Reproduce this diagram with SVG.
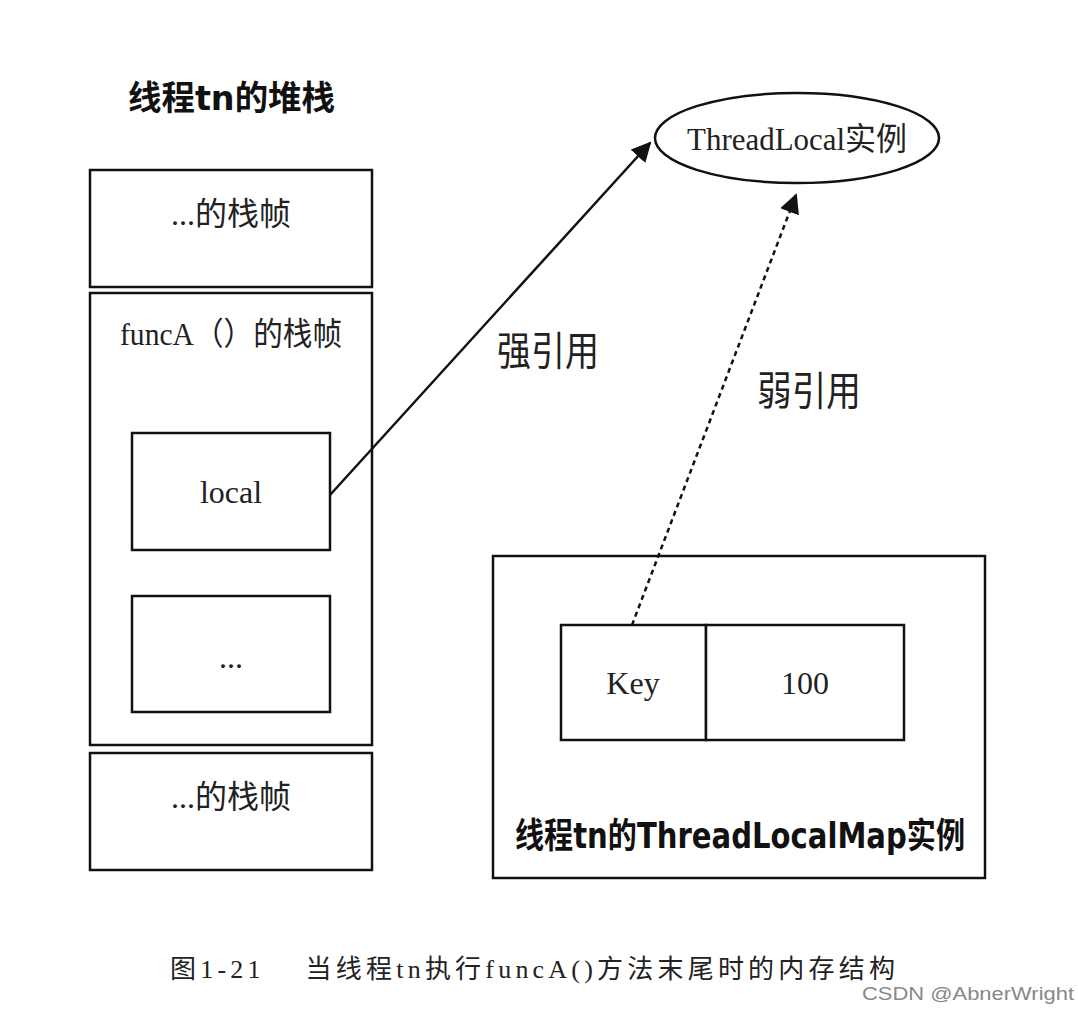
<svg xmlns="http://www.w3.org/2000/svg" width="1078" height="1010" viewBox="0 0 1078 1010">
<style>
.b{fill:#fff;stroke:#111;stroke-width:2.5}
.t{font-family:"Liberation Serif","Noto Sans CJK SC",serif;fill:#222}
.h{font-family:"DejaVu Sans","Noto Sans CJK SC",sans-serif;font-weight:bold;fill:#111}
</style>
<defs><marker id="a" viewBox="0 0 10 10" refX="9" refY="5" markerWidth="8" markerHeight="8" orient="auto"><path d="M0,0L10,5L0,10z" fill="#111"/></marker></defs>
<rect width="1078" height="1010" fill="#fff"/>
<text class="h" x="128" y="110" font-size="34" textLength="207" lengthAdjust="spacingAndGlyphs">线程tn的堆栈</text>
<g id="frame1"><rect class="b" x="90" y="170" width="282" height="117"/><text class="t" x="231" y="225" font-size="32" text-anchor="middle">...的栈帧</text></g>
<g id="frameA"><rect class="b" x="90" y="293" width="282" height="452"/><text class="t" x="120" y="345" font-size="32" textLength="222" lengthAdjust="spacingAndGlyphs">funcA（）的栈帧</text></g>
<g id="local"><rect class="b" x="132" y="433" width="198" height="117"/><text class="t" x="231" y="503" font-size="32" text-anchor="middle">local</text></g>
<g id="dots"><rect class="b" x="132" y="596" width="198" height="116"/><text class="t" x="231" y="668" font-size="32" text-anchor="middle">...</text></g>
<g id="frame3"><rect class="b" x="90" y="753" width="282" height="117"/><text class="t" x="231" y="808" font-size="32" text-anchor="middle">...的栈帧</text></g>
<g id="tl"><ellipse class="b" cx="797" cy="138" rx="142" ry="45"/><text class="t" x="797" y="150" font-size="32" text-anchor="middle" textLength="220" lengthAdjust="spacingAndGlyphs">ThreadLocal实例</text></g>
<g id="map"><rect class="b" x="493" y="556" width="492" height="322"/><text class="h" x="515" y="848" font-size="35" textLength="450" lengthAdjust="spacingAndGlyphs">线程tn的ThreadLocalMap实例</text></g>
<g id="key"><rect class="b" x="561" y="625" width="145" height="115"/><text class="t" x="633" y="694" font-size="32" text-anchor="middle">Key</text></g>
<g id="val"><rect class="b" x="706" y="625" width="198" height="115"/><text class="t" x="805" y="694" font-size="32" text-anchor="middle">100</text></g>
<g id="connectors" stroke="#111" stroke-width="2.5" fill="none">
<line x1="330" y1="495" x2="650" y2="143" marker-end="url(#a)"/>
<line x1="632" y1="625" x2="796" y2="195" stroke-dasharray="5,4" marker-end="url(#a)"/>
</g>
<text class="t" x="497" y="365" font-size="40" textLength="102" lengthAdjust="spacingAndGlyphs">强引用</text>
<text class="t" x="757" y="405" font-size="40" textLength="104" lengthAdjust="spacingAndGlyphs">弱引用</text>
<text class="t" x="170" y="978" font-size="26" textLength="725" lengthAdjust="spacing">图1-21　 当线程tn执行funcA()方法末尾时的内存结构</text>
<text x="862" y="1000" font-size="18" fill="#888" font-family="Liberation Sans,sans-serif" textLength="212" lengthAdjust="spacingAndGlyphs">CSDN @AbnerWright</text>
</svg>
